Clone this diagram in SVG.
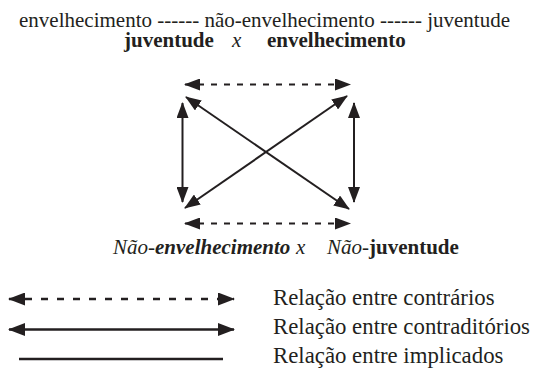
<svg xmlns="http://www.w3.org/2000/svg" width="544" height="369" viewBox="0 0 544 369" font-family="'Liberation Serif','Times New Roman',serif">
<style>
text,tspan{font-family:"Liberation Serif","Times New Roman",serif}
text{fill:#231f20;font-size:21px}
.b{font-weight:bold}
.i{font-style:italic}
.ln{stroke:#231f20;stroke-width:2;fill:none}
.d{stroke-dasharray:6 7}
.dl{stroke-dasharray:7 9}
.lg{stroke-width:2.4}
.leg{font-size:22.8px}
</style>
<defs>
<marker id="ah" viewBox="0 0 16 12" refX="15" refY="6" markerWidth="16" markerHeight="12" markerUnits="userSpaceOnUse" orient="auto-start-reverse">
<path d="M0,0 L16,6 L0,12 Z" fill="#231f20"/>
</marker>
<marker id="ah2" viewBox="0 0 17 13" refX="16" refY="6.5" markerWidth="17" markerHeight="13" markerUnits="userSpaceOnUse" orient="auto-start-reverse">
<path d="M0,0 L17,6.5 L0,13 Z" fill="#231f20"/>
</marker>
</defs>
<g id="title">
<text x="264.5" y="27" text-anchor="middle" font-size="21.8">envelhecimento ------ não-envelhecimento ------ juventude</text>
<text y="47"><tspan class="b" x="124">juventude</tspan><tspan class="i" x="232">x</tspan><tspan class="b" x="267">envelhecimento</tspan></text>
</g>
<g id="connectors">
<line class="ln d" x1="185" y1="84.5" x2="350" y2="84.5" marker-start="url(#ah)" marker-end="url(#ah)"/>
<line class="ln d" x1="185" y1="223.5" x2="350" y2="223.5" marker-start="url(#ah)" marker-end="url(#ah)"/>
<line class="ln" x1="182.5" y1="103" x2="182.5" y2="202" marker-start="url(#ah)" marker-end="url(#ah)"/>
<line class="ln" x1="354" y1="103" x2="354" y2="202" marker-start="url(#ah)" marker-end="url(#ah)"/>
<line class="ln" x1="186" y1="97" x2="349" y2="209" marker-start="url(#ah)" marker-end="url(#ah)"/>
<line class="ln" x1="347" y1="96" x2="185" y2="208" marker-start="url(#ah)" marker-end="url(#ah)"/>
</g>
<g id="bottom-label">
<text y="254"><tspan class="i" x="113">Não-</tspan><tspan class="i b">envelhecimento</tspan><tspan class="i" x="296">x</tspan><tspan class="i" x="327">Não-</tspan><tspan class="b">juventude</tspan></text>
</g>
<g id="legend">
<line class="ln dl lg" x1="9" y1="299" x2="234" y2="299" marker-start="url(#ah2)" marker-end="url(#ah2)"/>
<line class="ln lg" x1="9" y1="329.5" x2="234" y2="329.5" marker-start="url(#ah2)" marker-end="url(#ah2)"/>
<line class="ln lg" x1="19" y1="359" x2="223" y2="359"/>
<text class="leg" x="273" y="305">Relação entre contrários</text>
<text class="leg" x="273" y="334">Relação entre contraditórios</text>
<text class="leg" x="273" y="362.5">Relação entre implicados</text>
</g>
</svg>
